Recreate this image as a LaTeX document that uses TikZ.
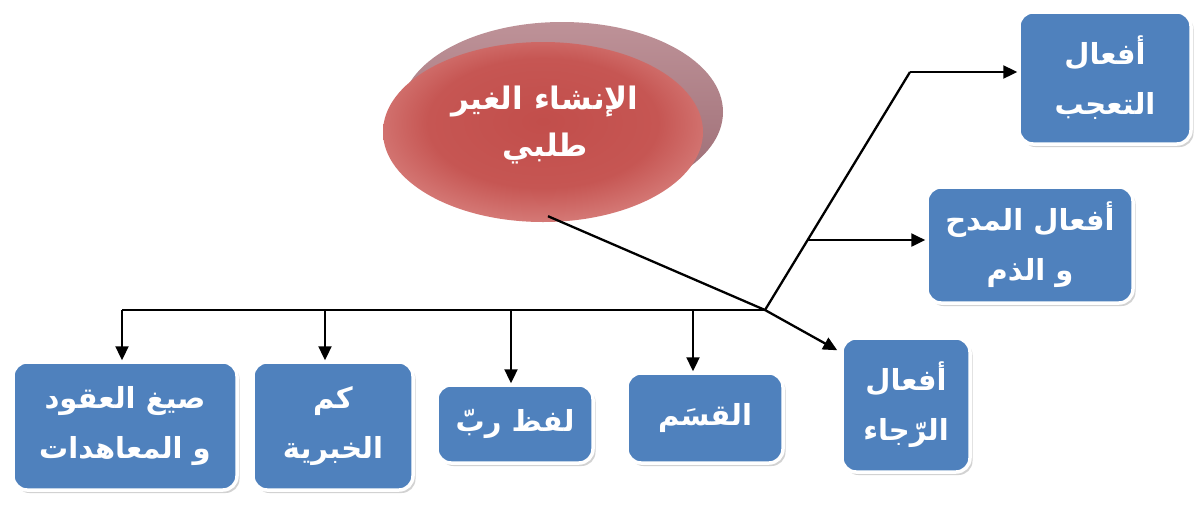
\documentclass[tikz,border=0pt]{standalone}
\usepackage{fontspec}
\newfontfamily\arabicfont[Script=Arabic]{DejaVu Sans}
\TeXXeTstate=1
\usetikzlibrary{arrows.meta,shadows,calc,shapes.geometric}
\definecolor{boxblue}{HTML}{4F81BD}
\definecolor{backtop}{HTML}{BE9298}
\definecolor{backbot}{HTML}{9A6A72}
\pgfdeclareradialshading{ellshade}{\pgfpoint{0bp}{3bp}}{%
  color(0bp)=(rgb,255:red,194;green,78;blue,75);
  color(18bp)=(rgb,255:red,198;green,86;blue,83);
  color(28bp)=(rgb,255:red,214;green,124;blue,121);
  color(35bp)=(rgb,255:red,234;green,170;blue,168);
  color(100bp)=(rgb,255:red,234;green,170;blue,168)}
\begin{document}
\begin{tikzpicture}[x=1pt,y=1pt,
  box/.style={rectangle, rounded corners=14pt, fill=boxblue, draw=white, line width=3.5pt,
    drop shadow={shadow xshift=2.5pt,shadow yshift=-3pt,fill=black!35},
    text=white, font=\arabicfont\bfseries\fontsize{29}{50}\selectfont, align=center, inner sep=0pt},
  conn/.style={line width=2.3pt, black},
  arr/.style={conn, -{Triangle[length=14pt,width=13pt]}}]
\useasboundingbox (0,0) rectangle (1197,-504);
\fill[white] (0,0) rectangle (1197,-504);

% main ellipse with 3D back
\node[ellipse, minimum width=322pt, minimum height=180pt, top color=backtop, bottom color=backbot, inner sep=0pt] (eb) at (562,-112) {};
\node[ellipse, minimum width=320pt, minimum height=180pt, shading=ellshade, inner sep=0pt] (e) at (543,-132) {};
\node[text=white, font=\arabicfont\bfseries\fontsize{31}{47}\selectfont, align=center] (et) at (545,-125)
  {\beginR الإنشاء الغير\endR\\\beginR طلبي\endR};

% boxes
\node[box, minimum width=172pt, minimum height=132pt] (b1) at (1105,-78) {\beginR أفعال\endR\\\beginR التعجب\endR};
\node[box, minimum width=206pt, minimum height=116pt] (b2) at (1030,-245) {\beginR أفعال المدح\endR\\\beginR و الذم\endR};
\node[box, minimum width=128pt, minimum height=134pt] (b3) at (906,-405) {\beginR أفعال\endR\\\beginR الرّجاء\endR};
\node[box, minimum width=156pt, minimum height=90pt] (b4) at (705,-418) {\beginR القسَم\endR};
\node[box, minimum width=156pt, minimum height=78pt] (b5) at (515,-424) {\beginR لفظ ربّ\endR};
\node[box, minimum width=160pt, minimum height=128pt] (b6) at (333,-426) {\beginR كم\endR\\\beginR الخبرية\endR};
\node[box, minimum width=224pt, minimum height=128pt] (b7) at (125,-426) {\beginR صيغ العقود\endR\\\beginR و المعاهدات\endR};

% connectors
\coordinate (J) at (765,-310);
\coordinate (T1) at (910,-72);
\coordinate (M2) at ($(J)!0.294!(T1)$);
\draw[conn] ([xshift=5pt,yshift=6pt]e.south) -- (J);
\draw[conn] (J) -- (T1);
\draw[arr] (T1) -- (T1 -| b1.west);
\draw[arr] (M2) -- (M2 -| b2.west);
\draw[arr] (J) -- ([xshift=-3pt,yshift=-14pt]b3.north west);
\draw[conn] (J) -- ([xshift=-3pt]b7.north |- J);
\draw[arr] ([xshift=-3pt]b7.north |- J) -- ([xshift=-3pt]b7.north);
\draw[arr] ([xshift=-8pt]b6.north |- J) -- ([xshift=-8pt]b6.north);
\draw[arr] ([xshift=-4pt]b5.north |- J) -- ([xshift=-4pt]b5.north);
\draw[arr] ([xshift=-12pt]b4.north |- J) -- ([xshift=-12pt]b4.north);
\end{tikzpicture}
\end{document}
